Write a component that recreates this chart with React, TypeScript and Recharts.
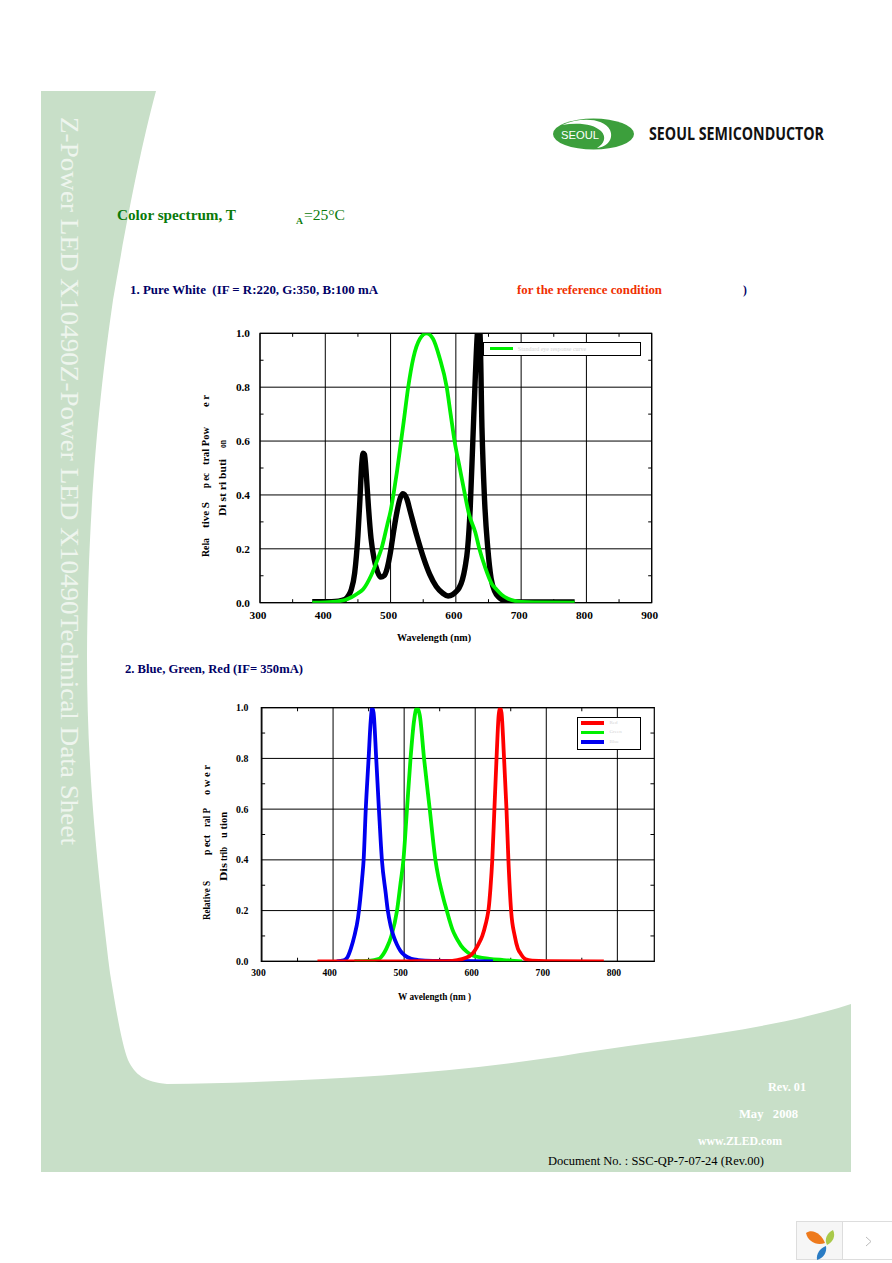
import React from "react";
import { LineChart, Line, XAxis, YAxis, CartesianGrid, ReferenceLine, ReferenceArea, Legend } from "recharts";

const SERIF = "'Liberation Serif', serif";

// ---- chart 1 data ----
const whiteNm = [380, 400, 420, 430, 436, 440, 445, 450, 453, 456, 458, 460, 463, 466, 470, 475, 480, 485, 490, 495, 500, 505, 510, 515, 519, 525, 530, 540, 550, 560, 570, 580, 588, 595, 600, 605, 610, 614, 618, 622, 626, 630, 633, 635, 637, 640, 644, 649, 654, 660, 665, 670, 680, 700, 782];
const whiteVal = [0.004, 0.004, 0.006, 0.012, 0.028, 0.05, 0.11, 0.25, 0.38, 0.52, 0.555, 0.55, 0.47, 0.36, 0.24, 0.16, 0.115, 0.095, 0.1, 0.13, 0.19, 0.27, 0.34, 0.39, 0.405, 0.385, 0.34, 0.25, 0.17, 0.105, 0.06, 0.035, 0.025, 0.03, 0.04, 0.055, 0.085, 0.13, 0.2, 0.35, 0.6, 0.85, 1.0, 1.03, 1.0, 0.65, 0.38, 0.2, 0.09, 0.04, 0.022, 0.012, 0.005, 0.003, 0.003];
const eyeNm = [380, 400, 420, 430, 440, 450, 458, 470, 480, 486, 495, 500, 505, 510, 515, 520, 527, 535, 545, 555, 565, 575, 586, 592, 598, 606, 614, 620, 630, 636, 645, 655, 662, 670, 680, 690, 700, 720, 782];
const eyeVal = [0, 0.001, 0.005, 0.01, 0.02, 0.035, 0.05, 0.1, 0.16, 0.2, 0.29, 0.34, 0.41, 0.49, 0.58, 0.67, 0.8, 0.91, 0.98, 1.0, 0.98, 0.91, 0.8, 0.7, 0.6, 0.5, 0.4, 0.33, 0.26, 0.2, 0.13, 0.07, 0.05, 0.03, 0.015, 0.007, 0.003, 0.001, 0];

// ---- chart 2 data ----
const blueNm = [405, 415, 420, 425, 430, 435, 438, 441, 443, 446, 450, 453, 455, 457, 460.7, 464.5, 468.7, 474, 477, 481, 485, 490, 495, 500, 510, 520, 540, 600, 625];
const blueVal = [0, 0.004, 0.015, 0.05, 0.1, 0.17, 0.24, 0.33, 0.4, 0.6, 0.8, 0.95, 1.0, 0.98, 0.8, 0.6, 0.4, 0.27, 0.2, 0.14, 0.1, 0.065, 0.04, 0.025, 0.01, 0.005, 0.002, 0.001, 0];
const greenNm = [430, 450, 465, 470, 475, 482, 490, 495, 499, 504, 509, 514, 518, 522, 528, 536, 544, 548, 552, 556, 560, 564, 568, 572, 576, 580, 588, 596, 620, 640, 666];
const greenVal = [0.001, 0.002, 0.01, 0.025, 0.05, 0.1, 0.2, 0.31, 0.4, 0.6, 0.8, 0.95, 1.0, 0.97, 0.8, 0.6, 0.4, 0.335, 0.285, 0.24, 0.2, 0.16, 0.125, 0.1, 0.08, 0.062, 0.038, 0.024, 0.01, 0.005, 0];
const redNm = [378, 500, 560, 575, 585, 596, 605, 610, 615, 617, 619, 621.5, 624, 627, 630, 633, 635, 637, 640.6, 644, 646.7, 650.5, 655.6, 660, 664, 671, 680, 700, 781];
const redVal = [0, 0, 0.001, 0.005, 0.012, 0.03, 0.07, 0.1, 0.15, 0.175, 0.21, 0.29, 0.4, 0.6, 0.8, 0.97, 1.0, 0.98, 0.8, 0.6, 0.4, 0.2, 0.1, 0.05, 0.03, 0.008, 0.003, 0.001, 0];

// ---- axes ----
const yTicks = [0, 0.2, 0.4, 0.6, 0.8, 1.0];
const yMinor = [0.1, 0.3, 0.5, 0.7, 0.9];
const xTicks1 = [300, 400, 500, 600, 700, 800, 900];
const xMinor1 = [350, 450, 550, 650, 750, 850];
const xTicks2 = [300, 400, 500, 600, 700, 800];
const xMinor2 = [350, 450, 550, 650, 750];
const legendOrder2 = ["Red", "Green", "Blue"];

const pts = (nm: number[], val: number[]) => nm.map((w, i) => ({ w, v: val[i] }));

function boxLegend(w: number, h: number, fontSize: number, gap: number, left: number, top: number) {
  return (props: any) => (
    <div style={{ width: w, height: h, boxSizing: "border-box", border: "1.3px solid #000", background: "#fff", position: "relative" }}>
      {(props.payload || []).filter((p: any) => p.type !== "none").map((p: any, i: number) => (
        <div key={i} style={{ position: "absolute", left, top: top + i * gap, display: "flex", alignItems: "center", height: 6 }}>
          <div style={{ width: 23, height: 3.4, background: p.color }} />
          <span style={{ marginLeft: 5, fontSize, lineHeight: "6px", color: "#d4d4d4", fontFamily: SERIF, whiteSpace: "nowrap" }}>{p.value}</span>
        </div>
      ))}
    </div>
  );
}

function minorLines(xs: number[], ys: number[], xMin: number, xMax: number, dx: number, dy: number) {
  const line = (key: string, a: any, b: any) => (
    <ReferenceLine key={key} segment={[a, b]} stroke="#000" strokeWidth={1} ifOverflow="hidden" />
  );
  return [
    ...xs.flatMap((x) => [
      line(`b${x}`, { x, y: 0 }, { x, y: dy }),
      line(`t${x}`, { x, y: 1 }, { x, y: 1 - dy }),
    ]),
    ...ys.flatMap((y) => [
      line(`l${y}`, { x: xMin, y }, { x: xMin + dx, y }),
      line(`r${y}`, { x: xMax, y }, { x: xMax - dx, y }),
    ]),
  ];
}

const Chart1 = () => (
  <LineChart width={480} height={330} margin={{ top: 13.3, right: 18.3, bottom: 0, left: 0 }}
    style={{ position: "absolute", left: 190, top: 320 }}>
    <CartesianGrid stroke="#000" strokeWidth={1} verticalValues={xTicks1} horizontalValues={yTicks} />
    <XAxis xAxisId={0} type="number" dataKey="w" domain={[300, 900]} ticks={xTicks1} height={47.3} allowDataOverflow
      tickLine={false} axisLine={false} interval={0}
      tick={{ fontFamily: SERIF, fontSize: 11.3, fontWeight: 700, fill: "#000", dx: -2 }} />
    <YAxis yAxisId={0} type="number" domain={[0, 1]} ticks={yTicks} width={70} allowDataOverflow
      tickLine={false} axisLine={false} tickMargin={4} interval={0} tickFormatter={(v: number) => v.toFixed(1)}
      tick={{ fontFamily: SERIF, fontSize: 11.3, fontWeight: 700, fill: "#000" }} />
    <ReferenceArea x1={300} x2={900} y1={0} y2={1} fill="none" stroke="#000" strokeWidth={1.2} />
    {minorLines(xMinor1, yMinor, 300, 900, 5.4, 0.013)}
    <Line data={pts(whiteNm, whiteVal)} dataKey="v" name="Pure White" legendType="none" stroke="#000" strokeWidth={5.4} dot={false} type="monotone" isAnimationActive={false} />
    <Line data={pts(eyeNm, eyeVal)} dataKey="v" name="Standard eye response curve" stroke="#00f000" strokeWidth={3.8} dot={false} type="monotone" isAnimationActive={false} />
    <Legend layout="vertical" align="center" verticalAlign="middle"
      wrapperStyle={{ left: 293.3, top: 22.3, width: 157.4, height: 13.7 }}
      content={boxLegend(157.4, 13.7, 6, 0, 5.5, 2.4)} />
  </LineChart>
);

const Chart2 = () => (
  <LineChart width={480} height={310} margin={{ top: 12.7, right: 15.7, bottom: 0, left: 0 }}
    style={{ position: "absolute", left: 190, top: 695 }}>
    <CartesianGrid stroke="#000" strokeWidth={1} verticalValues={xTicks2} horizontalValues={yTicks} />
    <XAxis xAxisId={0} type="number" dataKey="w" domain={[299, 852]} ticks={xTicks2} height={43.7} allowDataOverflow
      tickLine={false} axisLine={false} interval={0}
      tick={{ fontFamily: SERIF, fontSize: 9.6, fontWeight: 700, fill: "#000", dx: -3.5 }} />
    <YAxis yAxisId={0} type="number" domain={[0, 1]} ticks={yTicks} width={71.3} allowDataOverflow
      tickLine={false} axisLine={false} tickMargin={7} interval={0} tickFormatter={(v: number) => v.toFixed(1)}
      tick={{ fontFamily: SERIF, fontSize: 9.8, fontWeight: 700, fill: "#000" }} />
    <ReferenceArea x1={299} x2={852} y1={0} y2={1} fill="none" stroke="#000" strokeWidth={1.2} />
    {minorLines(xMinor2, yMinor, 299, 852, 5.4, 0.014)}
    <Line data={pts(greenNm, greenVal)} dataKey="v" name="Green" stroke="#00f000" strokeWidth={3.8} dot={false} type="monotone" isAnimationActive={false} />
    <Line data={pts(blueNm, blueVal)} dataKey="v" name="Blue" stroke="#0000f0" strokeWidth={3.8} dot={false} type="monotone" isAnimationActive={false} />
    <Line data={pts(redNm, redVal)} dataKey="v" name="Red" stroke="#ff0000" strokeWidth={3.8} dot={false} type="monotone" isAnimationActive={false} />
    <Legend layout="vertical" align="center" verticalAlign="middle"
      itemSorter={(item: any) => legendOrder2.indexOf(item.value)}
      wrapperStyle={{ left: 387.3, top: 22.3, width: 63.4, height: 32.7 }}
      content={boxLegend(63.4, 32.7, 5, 9.5, 3.2, 1.7)} />
  </LineChart>
);

type TProps = { x: number; y: number; w?: number; size: number; fill?: string; bold?: boolean; children: string };
const T = ({ x, y, w, size, fill = "#000", bold = true, children }: TProps) => (
  <text x={x} y={y} fontFamily={SERIF} fontSize={size} fontWeight={bold ? 700 : 400} fill={fill}
    textLength={w} lengthAdjust={w ? "spacingAndGlyphs" : undefined} xmlSpace="preserve">{children}</text>
);

// rotated (reading upward) axis-title fragment: from bottom y0 up to top y1
const V = ({ x, y0, y1, children }: { x: number; y0: number; y1: number; children: string }) => (
  <text transform={`translate(${x},${y0}) rotate(-90)`} fontFamily={SERIF} fontSize={10} fontWeight={700} fill="#000"
    textLength={y0 - y1} lengthAdjust="spacingAndGlyphs" xmlSpace="preserve">{children}</text>
);

const Page = () => (
  <svg width={892} height={1263} style={{ position: "absolute", left: 0, top: 0 }}>
    <rect width={892} height={1263} fill="#fff" />
    <path fill="#c8dfc8" d="M41,91 L156,91 C140,150 125,230 113,300 C100,390 88,500 87,657 C87,760 95,850 110,973 C116,1010 122,1045 128,1060 C135,1075 145,1082 167,1084 C300,1082 450,1075 580,1053 C680,1038 770,1030 851,1004 L851,1172 L41,1172 Z" />
    <text transform="translate(61,117) rotate(90)" fontFamily={SERIF} fontSize={26} fill="#eef5ee"
      textLength={728} lengthAdjust="spacingAndGlyphs">Z-Power LED X10490Z-Power LED X10490Technical Data Sheet</text>

    {/* logo */}
    <ellipse cx={593.5} cy={134} rx={40.5} ry={15.5} fill="#3c9f3c" />
    <path fill="#fff" d="M562,125 C580,117 604,118 610,130 C614,139 607,147 597,148 C604,144 607,137 601,131 C594,124 578,122 562,125 Z" />
    <text x={561} y={139} fontFamily="'Liberation Sans', sans-serif" fontSize={11} fill="#fff" textLength={38} lengthAdjust="spacingAndGlyphs">SEOUL</text>
    <text x={649} y={140} fontFamily="'Open Sans', sans-serif" fontWeight={700} fontSize={17} fill="#111" textLength={175} lengthAdjust="spacingAndGlyphs">SEOUL SEMICONDUCTOR</text>

    {/* headings */}
    <T x={117} y={220} w={119} size={14.5} fill="#0a7a0a">Color spectrum, T</T>
    <T x={296} y={224} w={7} size={9} fill="#0a7a0a">A</T>
    <T x={304} y={220} w={41} size={15} fill="#0a7a0a" bold={false}>=25°C</T>
    <T x={130} y={294} w={248} size={11.6} fill="#000066">1. Pure White  (IF = R:220, G:350, B:100 mA</T>
    <T x={517} y={294} w={145} size={11.6} fill="#f03000">for the reference condition</T>
    <T x={743} y={294} size={11.6} fill="#000066">)</T>
    <T x={125} y={673} w={178} size={11.6} fill="#000066">2. Blue, Green, Red (IF= 350mA)</T>

    {/* chart 1 axis titles */}
    <T x={397} y={641} w={74} size={10}>Wavelength (nm)</T>
    <V x={208.5} y0={557} y1={538}>Rela</V>
    <V x={208.5} y0={528} y1={502}>tive S</V>
    <V x={208.5} y0={488} y1={473}>p ec</V>
    <V x={208.5} y0={465} y1={427}>tral Pow</V>
    <V x={208.5} y0={407} y1={395}>e r</V>
    <V x={225.5} y0={516} y1={459}>Di st ri buti</V>
    <V x={225.5} y0={448} y1={440}>on</V>

    {/* chart 2 axis titles */}
    <T x={398} y={1000} w={73} size={10}>W avelength (nm )</T>
    <V x={210} y0={920} y1={881}>Relative S</V>
    <V x={210} y0={855} y1={835}>p ect</V>
    <V x={210} y0={827} y1={808}>ral P</V>
    <V x={210} y0={795} y1={765}>o w e r</V>
    <V x={226.5} y0={881} y1={863}>Dis</V>
    <V x={226.5} y0={861} y1={847}>trib</V>
    <V x={226.5} y0={838} y1={812}>u tion</V>

    {/* footer */}
    <T x={768} y={1091} w={38} size={12} fill="#fff">Rev. 01</T>
    <T x={739} y={1118} w={59} size={12} fill="#fff">May   2008</T>
    <T x={698} y={1145} w={84} size={12} fill="#fff">www.ZLED.com</T>
    <T x={548} y={1165} w={216} size={12.5} bold={false}>Document No. : SSC-QP-7-07-24 (Rev.00)</T>

    {/* viewer widget */}
    <rect x={796.5} y={1221.5} width={46} height={38} fill="#f6f6f6" stroke="#ddd" />
    <path d="M842.5,1221.5 H892 M842.5,1259.5 H892" stroke="#ddd" fill="none" />
    <polyline points="866,1237 871,1241.5 866,1246" fill="none" stroke="#bbb" />
    <path fill="#ee7a1c" d="M806,1233 C813,1228 822,1235 825,1243 C817,1246 808,1242 806,1233 Z" />
    <path fill="#a9c94a" d="M833,1230 C836,1236 833,1242 827,1245 C824,1239 827,1233 833,1230 Z" />
    <path fill="#2a7cc4" d="M826,1246 C827,1252 824,1258 817,1260 C816,1254 820,1248 826,1246 Z" />
  </svg>
);

export default function App() {
  return (
    <div style={{ position: "absolute", left: 0, top: 0, width: 892, height: 1263, overflow: "hidden" }}>
      <Page />
      <Chart1 />
      <Chart2 />
    </div>
  );
}
